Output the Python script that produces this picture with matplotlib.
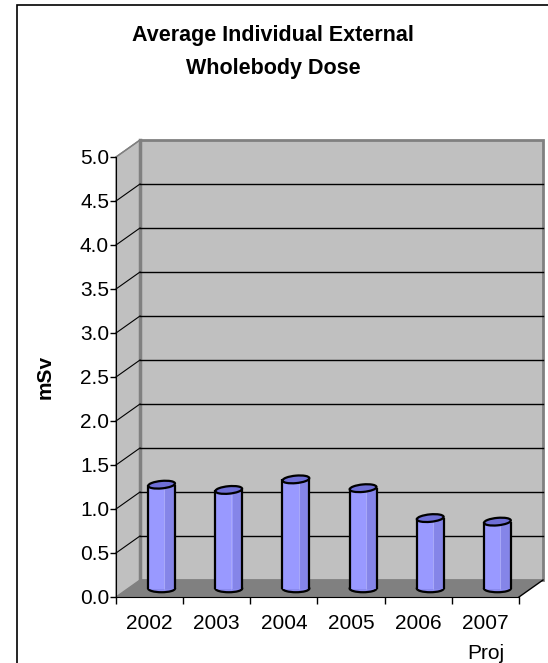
import matplotlib.pyplot as plt
from matplotlib.patches import Ellipse, Polygon, Rectangle

plt.rcParams['font.family'] = ['Liberation Sans', 'DejaVu Sans']

# data
years = ['2002', '2003', '2004', '2005', '2006', '2007\nProj']
dose = [1.18, 1.12, 1.24, 1.14, 0.80, 0.76]
y_ticks = [0.0, 0.5, 1.0, 1.5, 2.0, 2.5, 3.0, 3.5, 4.0, 4.5, 5.0]

fig = plt.figure(figsize=(5.48, 6.63), dpi=100)
ax = fig.add_axes([116 / 548, 66 / 663, 403 / 548, 440 / 663])
ax.set_xlim(-0.5, len(years) - 0.5)
ax.set_ylim(0, 5)
ax.patch.set_alpha(0)

# depth offset of the back wall, 24px right and 17px up, in data units
ddx = 0.24 / (4.03 / len(years))
ddy = 0.17 / (4.40 / 5)
x0, x1 = -0.5, len(years) - 0.5

# walls and floor
ax.add_patch(Polygon([(x0, 0), (x0, 5), (x0 + ddx, 5 + ddy), (x0 + ddx, ddy)],
                     closed=True, facecolor='#C0C0C0', edgecolor='#808080',
                     lw=1, clip_on=False, zorder=0))
ax.add_patch(Rectangle((x0 + ddx, ddy), x1 - x0, 5, facecolor='#C0C0C0',
                       edgecolor='#808080', lw=2, clip_on=False, zorder=0))
ax.plot([x0 + ddx, x0 + ddx], [ddy, 5 + ddy], color='#808080', lw=2.5,
        clip_on=False, zorder=1)
ax.add_patch(Polygon([(x0, 0), (x1, 0), (x1 + ddx, ddy), (x0 + ddx, ddy)],
                     closed=True, facecolor='#808080', edgecolor='none',
                     clip_on=False, zorder=1))
ax.plot([x1, x1 + ddx], [0, ddy], color='black', lw=1, clip_on=False, zorder=1)

# gridlines on the back and side walls
for t in y_ticks[1:-1]:
    ax.plot([x0 + ddx, x1 + ddx], [t + ddy, t + ddy], color='black', lw=1,
            clip_on=False, zorder=1)
    ax.plot([x0, x0 + ddx], [t, t + ddy], color='black', lw=0.8,
            clip_on=False, zorder=1)
ax.plot([x0, x0 + ddx], [5, 5 + ddy], color='#808080', lw=1, clip_on=False, zorder=1)

# cylinders, set at mid depth
w = 0.4
eh = 0.085
for i, v in enumerate(dose):
    cx = i + ddx / 2
    yb = ddy / 2
    ax.add_patch(Ellipse((cx, yb), w, eh, facecolor='#8A8AEE', edgecolor='black',
                         lw=1.6, zorder=3))
    ax.bar(cx, v, width=w, bottom=yb, color='#9999FF', zorder=4)
    ax.bar(cx + w * 0.32, v, width=w * 0.36, bottom=yb, color='#8585E8', zorder=4)
    ax.vlines([cx + w * 0.1], yb, yb + v, color='#A8A8F8', lw=0.8, zorder=4)
    ax.vlines([cx - w / 2, cx + w / 2], yb, yb + v, color='black', lw=1.6, zorder=5)
    ax.add_patch(Ellipse((cx, yb + v), w, eh, angle=4, facecolor='#6F6FD6',
                         edgecolor='black', lw=1.6, zorder=6))

# axes
for s in ['top', 'right']:
    ax.spines[s].set_visible(False)
ax.spines['left'].set_zorder(7)
ax.spines['bottom'].set_zorder(7)
ax.set_yticks(y_ticks)
ax.set_yticklabels([f'{t:.1f}' for t in y_ticks], fontsize=15)
ax.tick_params(axis='y', direction='out', length=4, width=1, pad=1)
ax.set_xticks([x + 0.5 for x in range(-1, len(years))])
ax.set_xticklabels([])
ax.set_xticks(range(len(years)), minor=True)
ax.set_xticklabels(years, minor=True, fontsize=15, linespacing=1.75)
ax.tick_params(axis='x', which='minor', length=0, pad=12)
ax.tick_params(axis='x', which='major', direction='out', length=5, width=1)

ax.set_ylabel('mSv', fontsize=15, fontweight='bold', labelpad=18)

fig.text(273 / 548, 1 - 25 / 663, 'Average Individual External\nWholebody Dose',
         ha='center', va='top', fontsize=15.5, fontweight='bold', linespacing=1.75)

# chart border
fig.patches.append(Rectangle((17 / 548, -0.1), 1.0, 1.1 - 5 / 663,
                             transform=fig.transFigure, fill=False,
                             edgecolor='black', lw=1.2))

fig.savefig('out.png', dpi=100)
